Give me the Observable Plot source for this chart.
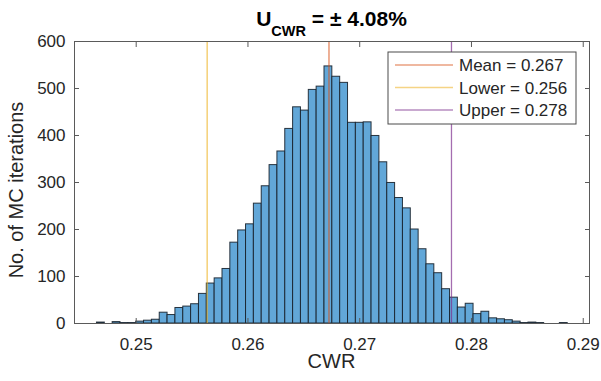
<!DOCTYPE html>
<html><head><meta charset="utf-8">
<script src="https://cdn.jsdelivr.net/npm/d3@7"></script>
<script src="https://cdn.jsdelivr.net/npm/@observablehq/plot@0.6"></script>
<style>
body{margin:0;background:#fff;}
#wrap{width:601px;height:381px;}
svg text{font-family:"Liberation Sans",Arial,Helvetica,sans-serif;}
</style></head><body><div id="wrap"></div><script>
// Histogram of Monte Carlo CWR estimates
const binStart = 0.24649;      // left edge of first bin
const binWidth = 0.000702;     // bin width
const counts = [2,0,3,1,1,4,6,8,23,18,33,36,41,63,85,96,116,172,198,211,
  255,292,337,366,414,460,453,497,504,547,525,512,427,427,428,399,343,299,267,245,
  200,158,126,107,73,55,34,42,20,25,11,9,7,4,1,2,1,0,0,1];
const statNames = ["Mean","Lower","Upper"];
const statValues = [0.26725, 0.25635, 0.27821];
const statLabels = ["0.267","0.256","0.278"];
const statColors = ["#D95319","#EDB120","#7E2F8E"];
const xTicks = [0.25,0.26,0.27,0.28,0.29];
const yTicks = [0,100,200,300,400,500,600];
const xDomain = [0.24448, 0.29056];
const yDomain = [0, 600];
const titleMain = "U", titleSub = "CWR", titleRest = " = \u00B1 4.08%";
const xLabel = "CWR", yLabel = "No. of MC iterations";

const bins = counts.map((c,i)=>({x1: binStart+i*binWidth, x2: binStart+(i+1)*binWidth, count: c}));
const stats = statNames.map((n,i)=>({name:n, value:statValues[i], label:statLabels[i], color:statColors[i]}));

const W = 601, H = 381;
const mL = 74, mR = 12, mT = 41, mB = 58;
const ax = "#5a5a5a";
const chart = Plot.plot({
  width: W, height: H,
  marginLeft: mL, marginRight: mR, marginTop: mT, marginBottom: mB,
  style: {fontFamily: '"Liberation Sans",Arial,sans-serif', fontSize: "17px", color: "#262626", background: "#fff"},
  x: {domain: xDomain},
  y: {domain: yDomain},
  marks: [
    Plot.rectY(bins, {x1:"x1", x2:"x2", y:"count", fill:"#62A7D8", stroke:"#17212b", strokeWidth:1, strokeOpacity:0.9}),
    Plot.ruleX(stats, {x:"value", stroke:"color", strokeOpacity:0.7, strokeWidth:1.3}),
    Plot.frame({stroke:ax, strokeWidth:1}),
    Plot.axisX({anchor:"bottom", ticks:xTicks, tickSize:-5, tickFormat:()=>"", stroke:ax, label:null}),
    Plot.axisX({anchor:"top", ticks:xTicks, tickSize:-5, tickFormat:()=>"", stroke:ax, label:null}),
    Plot.axisY({anchor:"left", ticks:yTicks, tickSize:-5, tickFormat:()=>"", stroke:ax, label:null}),
    Plot.axisY({anchor:"right", ticks:yTicks, tickSize:-5, tickFormat:()=>"", stroke:ax, label:null}),
    Plot.axisX({anchor:"bottom", ticks:xTicks, tickSize:0, tickPadding:14, tickFormat:d3.format(".2f"), fill:"#262626", fontSize:17, label:null}),
    Plot.axisY({anchor:"left", ticks:yTicks, tickSize:0, tickPadding:9, fill:"#262626", fontSize:17, label:null})
  ]
});
document.getElementById("wrap").appendChild(chart);

const svg = d3.select(chart);
const pL = mL, pR = W-mR, pT = mT, pB = H-mB;

// Axis labels
svg.append("text").attr("x", (pL+pR)/2).attr("y", 368).attr("text-anchor","middle")
  .attr("font-size", 20).attr("fill","#262626").text(xLabel);
svg.append("text").attr("transform", `translate(23,${(pT+pB)/2+8}) rotate(-90)`)
  .attr("text-anchor","middle").attr("font-size", 20).attr("fill","#262626").text(yLabel);

// Title
const t = svg.append("text").attr("x", (pL+pR)/2).attr("y", 26).attr("text-anchor","middle")
  .attr("font-weight","bold").attr("font-size", 21).attr("fill","#000");
t.append("tspan").text(titleMain);
t.append("tspan").attr("font-size", 14.5).attr("dy", 10).text(titleSub);
t.append("tspan").attr("dy", -10).text(titleRest);

// Legend
const lg = svg.append("g");
lg.append("rect").attr("x", 388).attr("y", 52).attr("width", 188).attr("height", 72)
  .style("fill","#ffffff").attr("stroke","#4a4a4a").attr("stroke-width",1);
stats.forEach((s,i)=>{
  const yy = 65 + i*22.5;
  lg.append("line").attr("x1",395).attr("x2",453).attr("y1",yy).attr("y2",yy)
    .attr("stroke", s.color).attr("stroke-opacity",0.55).attr("stroke-width",1.5);
  lg.append("text").attr("x",459).attr("y",yy).attr("dy","0.36em").attr("font-size",17)
    .attr("text-anchor","start").attr("fill","#262626").text(`${s.name} = ${s.label}`);
});
</script></body></html>
